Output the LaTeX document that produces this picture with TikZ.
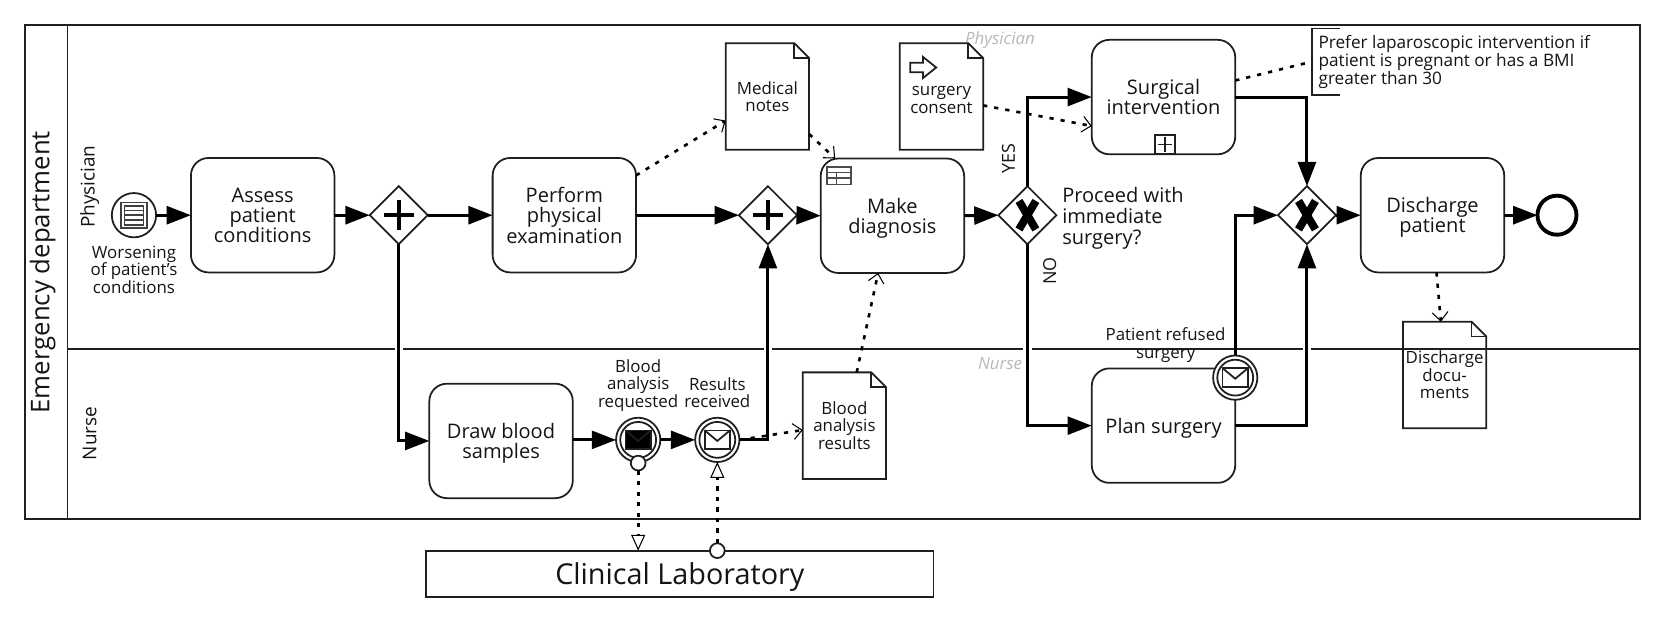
\documentclass[tikz,border=0pt]{standalone}
\usepackage{fontspec}
\setmainfont{Open Sans}
\usetikzlibrary{arrows.meta,shapes.geometric,calc}
\newcommand\pxfont[2]{\fontsize{\fpeval{#1*0.6}pt}{\fpeval{#2*0.6}pt}\selectfont}
\tikzset{
  every node/.style={outer sep=0pt,text=black!92},
  line/.style={line width=1pt,draw=black!88},
  task/.style={line,draw,rectangle,rounded corners=10pt,minimum width=136*0.6pt,minimum height=108.5*0.6pt,inner sep=0pt,align=center,text depth=0pt,font=\pxfont{19}{19.3}},
  gate/.style={line,draw,diamond,aspect=1,minimum width=55*0.6pt,minimum height=55*0.6pt,inner sep=0pt},
  ring/.style={line,draw,circle,minimum size=42*0.6pt,inner sep=0pt},
  docbox/.style={rectangle,minimum width=79*0.6pt,minimum height=101*0.6pt,inner sep=0pt,align=center,font=\pxfont{16}{16.5}},
  lbl/.style={inner sep=0pt,align=center,font=\pxfont{16}{16.5}},
  ghost/.style={inner sep=0pt,text=black!28,font=\pxfont{16}{17}\itshape},
  seq/.style={line width=1.7pt,draw=black,-{Triangle[length=13.8pt,width=10.2pt]}},
  assoc/.style={line width=1.5pt,draw=black,dash pattern=on 2.4pt off 4pt},
  dataflow/.style={assoc,-{Straight Barb[length=5pt,width=9pt,line width=0.6pt]}},
  msgline/.style={line width=1.5pt,draw=black,dash pattern=on 2.4pt off 3.6pt},
  msg/.style={msgline,-{Triangle[open,fill=white,length=9pt,width=8pt,line width=0.6pt]}},
  dot/.style={line,draw,circle,fill=white,minimum size=14*0.6pt,inner sep=0pt},
}
\newcommand\docshape[1]{%
  \draw[line] (#1.north west) -- ($(#1.north east)+(-14,0)$) -- ($(#1.north east)+(0,14)$) -- (#1.south east) -- (#1.south west) -- cycle;
  \draw[line] ($(#1.north east)+(-14,0)$) -- ($(#1.north east)+(-14,14)$) -- ($(#1.north east)+(0,14)$);}
\newcommand\envelope[2]{%
  \begin{scope}[shift={(#1.center)}]
    \draw[line,fill=#2] (-12,-9) rectangle (12,9);
    \ifx#2black \draw[white,line width=0.6pt] (-12,-9) -- (0,1) -- (12,-9);
    \else \draw[line] (-12,-9) -- (0,1) -- (12,-9); \fi
  \end{scope}}
\newcommand\innerring[1]{\draw[line] (#1.center) circle (17);}
\newcommand\plusmark[1]{%
  \draw[line width=2.5pt,black] ($(#1.center)+(-14,0)$) -- ($(#1.center)+(14,0)$);
  \draw[line width=2.5pt,black] ($(#1.center)+(0,-14)$) -- ($(#1.center)+(0,14)$);}
\newcommand\xmark[1]{%
  \draw[line width=4.5pt,black] ($(#1.center)+(-8,-13.5)$) -- ($(#1.center)+(8,13.5)$);
  \draw[line width=4.5pt,black] ($(#1.center)+(8,-13.5)$) -- ($(#1.center)+(-8,13.5)$);}
\begin{document}
\begin{tikzpicture}[x=0.6pt,y=-0.6pt]
\useasboundingbox (0,0) rectangle (1568,589.66);
% pool
\draw[line] (24,24) rectangle (1555,492);
\draw[line] (64,24) -- (64,492);
\draw[line] (64,331) -- (1555,331);
\foreach \gx in {378,728,974,1239} \fill[white] (\gx-4,328) rectangle (\gx+4,334);
\node[rotate=90,inner sep=0pt,font=\pxfont{24.4}{25}] (pool) at (40.5,258) {Emergency department};
\node[rotate=90,inner sep=0pt,font=\pxfont{18}{19}] (lanea) at (85,177) {Physician};
\node[rotate=90,inner sep=0pt,font=\pxfont{18}{19}] (laneb) at (85,411) {Nurse};
\node[ghost] (ghosta) at (948,38) {Physician};
\node[ghost] (ghostb) at (948,345) {Nurse};
% start
\node[ring] (start) at (127,204) {};
\draw[line,black!75] (115,192) rectangle (139,216);
\draw[line,black!75] (118,195) rectangle (136,213);
\foreach \ly in {199.5,204,208.5} \draw[line,black!75] (118,\ly) -- (136,\ly);
\node[lbl] (startl) at (127,255.5) {Worsening\\of patient's\\conditions};
% tasks
\node[task] (assess) at (249,204) {Assess\\patient\\conditions};
\node[task] (perform) at (535,204) {Perform\\physical\\examination};
\node[task] (make) at (846,204.5) {Make\\diagnosis};
\node[task] (surgical) at (1103,92) {Surgical\\intervention};
\node[task] (discharge) at (1358,204) {Discharge\\patient};
\node[task] (draw) at (475,418) {Draw blood\\samples};
\node[task] (plan) at (1103,403.5) {Plan surgery};
% markers on tasks
\draw[line,black!70] (784,158) rectangle (807,175);
\draw[line,black!70] (784,163.5) -- (807,163.5) (784,169) -- (807,169) (793,163.5) -- (793,175);
\draw[line] (1095,128) rectangle (1114,146);
\draw[line] (1098,137) -- (1111,137) (1104.5,130) -- (1104.5,144);
% gateways
\node[gate] (gwa) at (378,204) {};
\node[gate] (gwb) at (728,204) {};
\node[gate] (gwc) at (974,204) {};
\node[gate] (gwd) at (1239,204) {};
\plusmark{gwa}\plusmark{gwb}\xmark{gwc}\xmark{gwd}
\node[anchor=west,inner sep=0pt,align=left,text depth=0pt,font=\pxfont{19}{20}] (gwcl) at (1007,205) {Proceed with\\immediate\\surgery?};
\node[rotate=90,inner sep=0pt,font=\pxfont{17}{18}] (yes) at (956,150) {YES};
\node[rotate=90,inner sep=0pt,font=\pxfont{17}{18}] (no) at (995,257) {NO};
% end
\node[circle,draw=black,line width=2.2pt,minimum size=37*0.6pt,inner sep=0pt] (end) at (1476,204) {};
% intermediate events
\node[ring] (evthrow) at (605,417) {};
\node[ring] (evcatch) at (680,417) {};
\node[ring,fill=white] (evbound) at (1171,358) {};
\innerring{evthrow}\innerring{evcatch}\innerring{evbound}
\envelope{evthrow}{black}\envelope{evcatch}{white}\envelope{evbound}{white}
\node[lbl] (evthrowl) at (605,365.5) {Blood\\analysis\\requested};
\node[lbl] (evcatchl) at (680,372) {Results\\received};
\node[lbl] (evboundl) at (1105,327) {Patient refused\\surgery};
% documents
\node[docbox] (notes) at (727.5,91.5) {Medical\\notes};
\node[docbox] (consent) at (892.5,91.5) {\rule{0pt}{9.1pt}surgery\\consent};
\node[docbox] (blood) at (800.5,403.5) {Blood\\analysis\\results};
\node[docbox] (docs) at (1369.5,355.5) {Discharge\\docu-\\ments};
\docshape{notes}\docshape{consent}\docshape{blood}\docshape{docs}
\draw[line] (863,59.5) -- (875,59.5) -- (875,54) -- (887.5,64) -- (875,74) -- (875,68.5) -- (863,68.5) -- cycle;
% annotation
\node[anchor=north west,rectangle,minimum height=63*0.6pt,inner xsep=6.5*0.6pt,inner ysep=0pt,align=left,font=\pxfont{16.3}{17}] (note) at (1243.5,27) {Prefer laparoscopic intervention if\\patient is pregnant or has a BMI\\greater than 30};
\draw[line] ($(note.north west)+(27,0)$) -- (note.north west) -- (note.south west) -- ($(note.south west)+(27,0)$);
% pool
\node[line,draw,rectangle,minimum width=481*0.6pt,minimum height=44*0.6pt,inner sep=0pt,text depth=0pt,font=\pxfont{27.3}{30}] (lab) at (644.5,544) {Clinical Laboratory};
% sequence flows
\draw[seq] (start.east) -- (assess.west);
\draw[seq] (assess.east) -- (gwa.west);
\draw[seq] (gwa.east) -- (perform.west);
\draw[seq] (perform.east) -- (gwb.west);
\draw[seq] (gwb.east) -- (make.west);
\draw[seq] (make.east) -- (gwc.west);
\draw[seq] (gwc.north) |- (surgical.west);
\draw[seq] (gwc.south) |- (plan.west);
\draw[seq] (surgical.east) -| (gwd.north);
\draw[seq] (plan.east) -| (gwd.south);
\draw[seq] (evbound.north) |- (gwd.west);
\draw[seq] (gwd.east) -- (discharge.west);
\draw[seq] (discharge.east) -- (end.west);
\draw[seq] (gwa.south) |- (draw.west);
\draw[seq] (draw.east |- evthrow.west) -- (evthrow.west);
\draw[seq] (evthrow.east) -- (evcatch.west);
\draw[seq] (evcatch.east) -| (gwb.south);
% associations
\draw[dataflow] (perform.29) -- (notes.210.7);
\draw[dataflow] (notes.-42) -- (make.135.8);
\draw[dataflow] (consent.-12) -- (surgical.202.4);
\draw[dataflow] (blood.77.2) -- (make.256.6);
\draw[dataflow] (evcatch.east) -- (blood.186.5);
\draw[dataflow] (discharge.274.2) -- (docs.94);
\draw[assoc] (surgical.13.2) -- (note.west);
% message flows
\node[dot] (msgsrc) at (605,439) {};
\draw[msg] (msgsrc.south) -- (msgsrc.south |- lab.north);
\node[dot] (msgdst) at (680,522) {};
\draw[msg] (msgdst.north) -- (evcatch.south);
\end{tikzpicture}
\end{document}
